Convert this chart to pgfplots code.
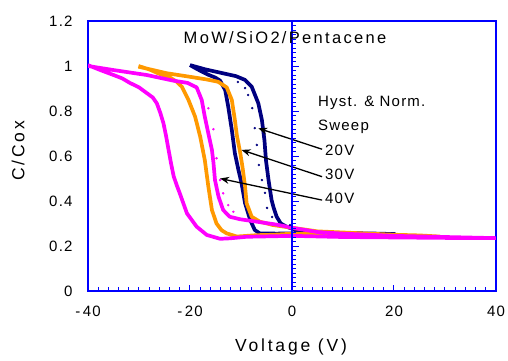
\documentclass[border=0pt]{standalone}
\usepackage{pgfplots}
\pgfplotsset{compat=1.18}
\usepackage{fontspec}
\setmainfont{Liberation Sans}[LetterSpace=8]
\usetikzlibrary{arrows.meta}
\definecolor{cnavy}{RGB}{0,0,128}
\definecolor{corange}{RGB}{255,153,0}
\definecolor{cmag}{RGB}{255,0,255}
\definecolor{cblue}{RGB}{0,0,255}
\newcommand\ff{\fontsize{15bp}{18bp}\selectfont}
\newcommand\fl{\fontsize{17.5bp}{20bp}\selectfont\addfontfeature{LetterSpace=16}}
\newcommand\ft{\fontsize{16.5bp}{20bp}\selectfont\addfontfeature{LetterSpace=14}}
\begin{document}
\begin{tikzpicture}
\path[use as bounding box] (0,0) rectangle (508bp,361bp);
\begin{axis}[
  at={(88bp,70bp)}, anchor=south west,
  scale only axis, width=408bp, height=270bp,
  xmin=-40, xmax=40, ymin=0, ymax=1.2,
  axis line style={cblue, line width=1.2bp},
  xtick={-40,-20,0,20,40},
  xticklabels={-\,40,-\,20,0,20,40},
  minor xtick={-38,-36,...,38},
  xtick pos=bottom, tick align=inside,
  major tick length=6bp, minor tick length=4bp,
  tick style={cblue, line width=1bp},
  minor tick style={cblue, line width=1bp},
  ytick={0,0.2,0.4,0.6,0.8,1,1.2},
  yticklabels={0,0.2,0.4,0.6,0.8,1,1.2},
  ytick style={draw=none},
  tick label style={font=\ff},
  xticklabel style={yshift=-12bp},
  yticklabel style={xshift=-12bp},
  clip=true,
]
% 20V hysteresis
\addplot[cnavy, line width=3.7bp, line join=round] coordinates {
(-20,1.004)(-18.5,0.985)(-16.5,0.962)(-15,0.948)(-14.1,0.935)(-13.1,0.893)(-12.5,0.819)(-11.8,0.716)(-11.2,0.612)(-10.5,0.538)(-9.9,0.48)(-9.2,0.39)(-8.2,0.316)(-7.3,0.271)(-6.3,0.256)(-3,0.255)(0,0.256)(5,0.255)(10,0.254)(15,0.254)(20.2,0.253)
(15,0.256)(10,0.257)(5,0.26)(1,0.27)(-1,0.285)(-2.2,0.30)(-3.0,0.33)(-3.6,0.37)(-4.0,0.404)(-4.6,0.493)(-5.1,0.58)(-5.4,0.67)(-5.9,0.76)(-6.6,0.834)(-7.9,0.908)(-9.2,0.938)(-11,0.955)(-14,0.97)(-17,0.985)(-20,1.004)
};
% 20V normal sweep
\addplot[cnavy, only marks, mark=*, mark size=1bp] coordinates {
(-10.6,0.929)(-9.2,0.902)(-8.6,0.871)(-7.8,0.813)(-7.3,0.724)(-6.9,0.649)(-6.5,0.56)(-5.9,0.493)(-5.3,0.436)(-4.9,0.369)(-3.9,0.329)(-2.4,0.307)(-0.4,0.293)
};
% 30V hysteresis
\addplot[corange, line width=3.7bp, line join=round] coordinates {
(-30.1,1.0)(-28,0.985)(-26,0.965)(-24,0.95)(-22.6,0.93)(-21.6,0.908)(-20.3,0.849)(-19,0.775)(-18,0.686)(-17.1,0.582)(-16.4,0.464)(-15.7,0.36)(-14.8,0.30)(-13.8,0.27)(-12.8,0.256)(-10.8,0.242)(-7,0.248)(-3.7,0.25)(0.3,0.255)(5,0.252)(10,0.25)(15,0.248)(20,0.245)(25,0.245)(29,0.242)
(25,0.247)(20,0.25)(15,0.255)(10,0.26)(5,0.265)(0.3,0.28)(-3.7,0.293)(-6.3,0.308)(-7.9,0.33)(-8.9,0.39)(-9.2,0.464)(-9.7,0.55)(-10.2,0.62)(-10.8,0.69)(-11.2,0.76)(-11.8,0.849)(-12.8,0.905)(-14.5,0.93)(-16.7,0.94)(-20,0.952)(-24.6,0.968)(-30.1,0.997)
};
% 40V hysteresis
\addplot[cmag, line width=3.7bp, line join=round] coordinates {
(-40,1.004)(-37.6,0.982)(-35,0.96)(-33.3,0.945)(-31.8,0.925)(-30,0.905)(-28.5,0.88)(-27.3,0.86)(-26.5,0.834)(-25.8,0.79)(-25.2,0.745)(-24.7,0.69)(-24.2,0.627)(-23.7,0.565)(-23.2,0.51)(-22.6,0.47)(-22.0,0.434)(-20.6,0.345)(-18.7,0.286)(-16.7,0.249)(-14.1,0.232)(-12.2,0.234)(-8.9,0.241)(0,0.245)(10,0.24)(20,0.238)(30,0.236)(40,0.235)
(30,0.24)(20,0.245)(10,0.255)(5,0.262)(0.3,0.28)(-3,0.295)(-6.9,0.308)(-10.2,0.319)(-12.2,0.33)(-13.5,0.36)(-14.4,0.419)(-15.1,0.493)(-15.4,0.57)(-15.7,0.627)(-16.4,0.70)(-17.1,0.775)(-17.7,0.849)(-18.7,0.905)(-20.5,0.925)(-23.3,0.935)(-28.5,0.96)(-35,0.982)(-40,1.0)
};
% 40V normal sweep
\addplot[cmag, only marks, mark=*, mark size=1bp] coordinates {
(-18.0,0.871)(-16.4,0.812)(-15.4,0.719)(-14.8,0.59)(-14.1,0.493)(-13.5,0.434)(-12.5,0.382)(-11.5,0.352)
};
\draw[black, line width=1.3bp, -{Stealth[length=9bp,width=7bp]}] (axis cs:5.9,0.630) -- (axis cs:-6.6,0.723);
\draw[black, line width=1.3bp, -{Stealth[length=9bp,width=7bp]}] (axis cs:5.9,0.508) -- (axis cs:-9.9,0.627);
\draw[black, line width=1.3bp, -{Stealth[length=9bp,width=7bp]}] (axis cs:5.9,0.404) -- (axis cs:-14.1,0.50);
\end{axis}
% vertical axis at V=0 with its ticks
\draw[cblue, line width=1.2bp] (292bp,70bp) -- (292bp,340bp);
\foreach \i in {1,...,59} \draw[cblue, line width=0.9bp] (292bp,{70bp+4.5bp*\i}) -- ++(4bp,0);
\foreach \i in {1,...,6} \draw[cblue, line width=0.9bp] (292bp,{70bp+45bp*\i}) -- ++(7bp,0);
\node[font=\ft] at (285bp,323bp) {MoW/SiO2/Pentacene};
\node[font=\ff, anchor=west, inner sep=0] at (318bp,258bp) {Hyst. \& Norm.};
\node[font=\ff, anchor=west, inner sep=0] at (318bp,234bp) {Sweep};
\node[font=\ff, anchor=west, inner sep=0] at (325bp,211bp) {20V};
\node[font=\ff, anchor=west, inner sep=0] at (325bp,187bp) {30V};
\node[font=\ff, anchor=west, inner sep=0] at (325bp,163bp) {40V};
\node[font=\fl] at (291bp,14bp) {Voltage (V)};
\node[font=\fl, rotate=90] at (18bp,210bp) {C/Cox};
\end{tikzpicture}
\end{document}
